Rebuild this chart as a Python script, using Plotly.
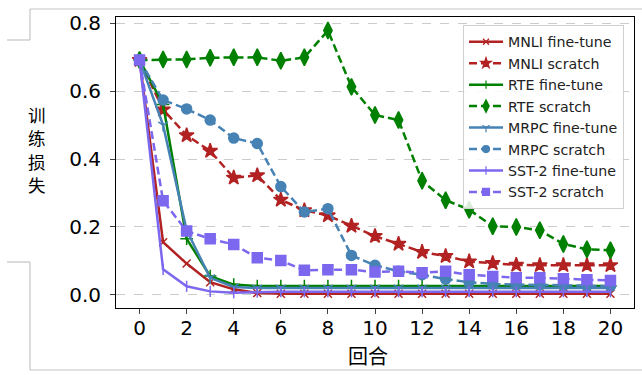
import plotly.graph_objects as go

epochs = list(range(21))

mnli_ft = [0.692, 0.155, 0.092, 0.037, 0.016, 0.005, 0.003, 0.003, 0.003, 0.003, 0.003,
           0.003, 0.003, 0.003, 0.003, 0.003, 0.003, 0.003, 0.003, 0.003, 0.003]
mnli_sc = [0.692, 0.546, 0.470, 0.424, 0.345, 0.352, 0.280, 0.249, 0.234, 0.203, 0.173,
           0.150, 0.126, 0.114, 0.098, 0.093, 0.088, 0.087, 0.087, 0.087, 0.087]
rte_ft = [0.692, 0.561, 0.165, 0.055, 0.030, 0.026, 0.026, 0.026, 0.026, 0.026, 0.026,
          0.026, 0.026, 0.026, 0.026, 0.026, 0.026, 0.026, 0.026, 0.026, 0.026]
rte_sc = [0.692, 0.694, 0.694, 0.699, 0.700, 0.700, 0.690, 0.700, 0.779, 0.613, 0.530,
          0.515, 0.336, 0.279, 0.251, 0.202, 0.200, 0.190, 0.150, 0.134, 0.131]
mrpc_ft = [0.692, 0.500, 0.190, 0.050, 0.023, 0.020, 0.020, 0.020, 0.020, 0.020, 0.020,
           0.020, 0.020, 0.020, 0.020, 0.020, 0.020, 0.020, 0.020, 0.020, 0.020]
mrpc_sc = [0.692, 0.574, 0.548, 0.515, 0.462, 0.446, 0.319, 0.244, 0.254, 0.116, 0.087,
           0.069, 0.059, 0.046, 0.037, 0.032, 0.030, 0.030, 0.028, 0.027, 0.025]
sst_ft = [0.692, 0.075, 0.025, 0.010, 0.006, 0.008, 0.009, 0.009, 0.009, 0.009, 0.009,
          0.009, 0.009, 0.009, 0.009, 0.009, 0.009, 0.009, 0.009, 0.009, 0.009]
sst_sc = [0.692, 0.277, 0.188, 0.165, 0.148, 0.109, 0.101, 0.072, 0.074, 0.074, 0.067,
          0.069, 0.065, 0.069, 0.059, 0.054, 0.050, 0.050, 0.047, 0.044, 0.042]

names = ["MNLI fine-tune", "MNLI scratch", "RTE fine-tune", "RTE scratch",
         "MRPC fine-tune", "MRPC scratch", "SST-2 fine-tune", "SST-2 scratch"]
series = [mnli_ft, mnli_sc, rte_ft, rte_sc, mrpc_ft, mrpc_sc, sst_ft, sst_sc]
x_ticks = list(range(0, 21, 2))
y_ticks = [0.0, 0.2, 0.4, 0.6, 0.8]
y_title_chars = ["训", "练", "损", "失"]
x_title = "回合"

RED = "#b22222"
GREEN = "#008000"
BLUE = "#4682b4"
PURPLE = "#7b68ee"

styles = [
    dict(color=RED, dash="solid", symbol="x-thin-open", size=8),
    dict(color=RED, dash="dash", symbol="star", size=11),
    dict(color=GREEN, dash="solid", symbol="cross-thin-open", size=9),
    dict(color=GREEN, dash="dash", symbol="diamond-tall", size=12),
    dict(color=BLUE, dash="solid", symbol="y-down-open", size=8),
    dict(color=BLUE, dash="dash", symbol="circle", size=10),
    dict(color=PURPLE, dash="solid", symbol="line-ns-open", size=8),
    dict(color=PURPLE, dash="dash", symbol="square", size=10),
]

def line_style(st):
    return dict(color=st["color"], width=2.5,
                dash="8px,4px" if st["dash"] == "dash" else "solid")

fig = go.Figure()
for i, (name, ys, st) in enumerate(zip(names, series, styles)):
    fig.add_trace(go.Scatter(
        x=epochs, y=ys, name=name, mode="lines+markers", showlegend=False,
        line=line_style(st),
        marker=dict(symbol=st["symbol"], size=st["size"], color=st["color"],
                    line=dict(color=st["color"], width=1.5)),
    ))
for i, (name, st) in enumerate(zip(names, styles)):
    fig.add_trace(go.Scatter(
        x=[None], y=[None], name=name, mode="lines+markers",
        legendgroup=f"g{i}",
        line=line_style(st),
        marker=dict(symbol=st["symbol"], size=max(6, st["size"] - 3), color=st["color"],
                    line=dict(color=st["color"], width=1.2)),
    ))

W, H = 642, 375
L, R, T, B = 116, 634, 17, 308

def px_x(p):
    return (p - L) / (R - L)

def px_y(p):
    return (B - p) / (B - T)

frame = [
    (30, 9, 642, 9), (30, 9, 30, 40), (7, 40, 30, 40),
    (7, 262, 30, 262), (30, 262, 30, 370), (30, 370, 642, 370),
]
shapes = [dict(type="line", xref="paper", yref="paper",
               x0=px_x(a), y0=px_y(b), x1=px_x(c), y1=px_y(d),
               line=dict(color="#c4c4c4", width=1.2)) for a, b, c, d in frame]

annotations = [
    dict(text=ch, xref="paper", yref="paper", x=px_x(37), y=px_y(114 + 23.5 * k),
         xanchor="center", yanchor="middle", showarrow=False,
         font=dict(family="Noto Sans CJK SC", size=17.5, color="black"))
    for k, ch in enumerate(y_title_chars)
]
annotations.append(dict(text=x_title, xref="paper", yref="paper",
                        x=px_x(368), y=px_y(355), xanchor="center", yanchor="middle",
                        showarrow=False,
                        font=dict(family="Noto Sans CJK SC", size=20, color="black")))

fig.update_layout(
    width=W, height=H,
    margin=dict(l=L, r=W - R, t=T, b=H - B, autoexpand=False),
    paper_bgcolor="white", plot_bgcolor="white",
    font=dict(family="DejaVu Sans", color="black"),
    shapes=shapes,
    showlegend=True,
    legend=dict(x=px_x(463), y=px_y(25), xanchor="left", yanchor="top",
                bgcolor="rgba(255,255,255,0.85)", bordercolor="#d0d0d0", borderwidth=1,
                font=dict(family="DejaVu Sans", size=14.2, color="#222"),
                tracegroupgap=0, itemwidth=34),
    xaxis=dict(range=[-1, 21], tickvals=x_ticks, ticks="outside", ticklen=5,
               tickfont=dict(size=20), showgrid=False, zeroline=False, automargin=False,
               ticklabelstandoff=-3,
               showline=True, linecolor="black", linewidth=1, mirror=True),
    yaxis=dict(range=[-0.039, 0.819], tickvals=y_ticks, ticktext=[f"{v:.1f}" for v in y_ticks],
               ticks="outside", ticklen=5, tickfont=dict(size=20), automargin=False,
               ticklabelstandoff=5,
               showgrid=True, gridcolor="#cccccc", griddash="dash", gridwidth=1,
               zeroline=False, showline=True, linecolor="black", linewidth=1, mirror=True),
    annotations=annotations,
)

fig.write_html("out.html", config={"displayModeBar": False},
               post_script="document.body.style.margin='0px';document.body.style.padding='0px';")
